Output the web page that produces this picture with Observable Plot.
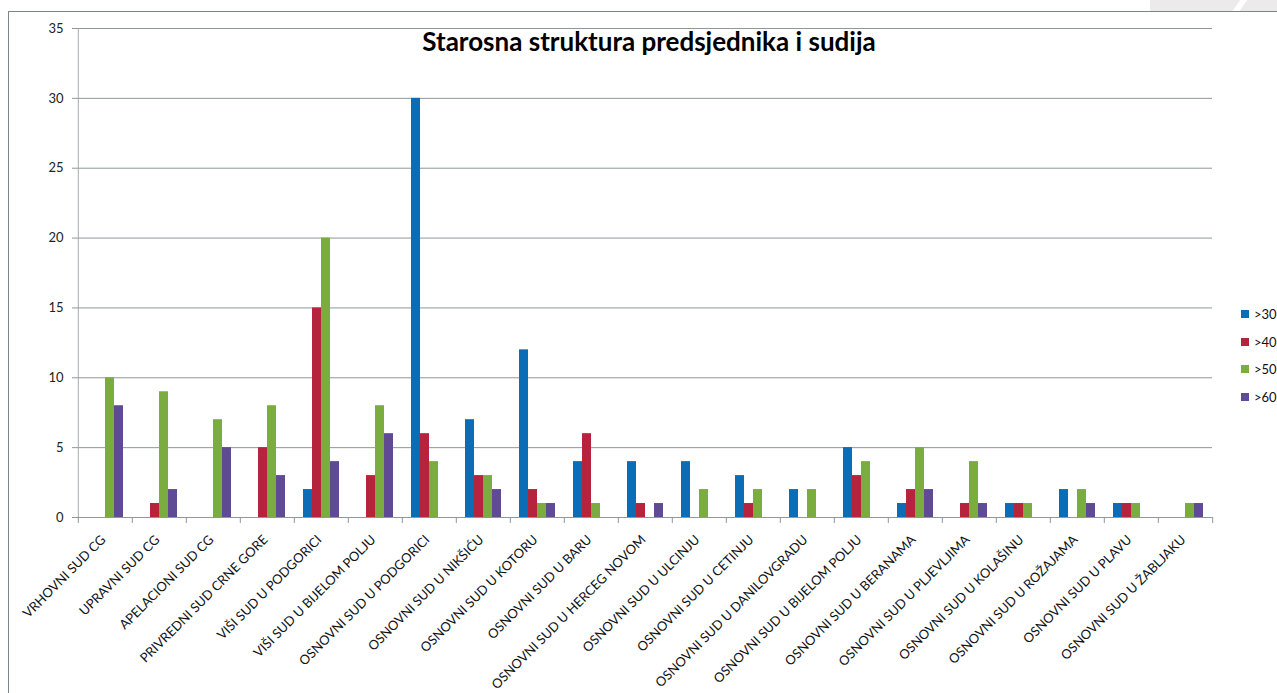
<!DOCTYPE html>
<html>
<head>
<meta charset="utf-8">
<script src="https://cdn.jsdelivr.net/npm/d3@7"></script>
<script src="https://cdn.jsdelivr.net/npm/@observablehq/plot@0.6"></script>
<style>
  body { margin: 0; background: #fff; font-family: Lato, "Open Sans", sans-serif; }
  #wrap { position: relative; width: 1277px; height: 693px; overflow: hidden; background: #fff; }
  #deco { position: absolute; left: 1150px; top: 0; width: 140px; height: 11px; background: #ebebeb; }
  #deco2 { position: absolute; left: 1236px; top: -4px; width: 7px; height: 20px; background: #fff; transform: skewX(-35deg); }
  #frame { position: absolute; left: 8px; top: 11px; width: 1300px; height: 700px;
           border-left: 1.5px solid #7b868a; border-top: 1.5px solid #7b868a; }
  #chart { position: absolute; left: 0; top: 0; }
  #title { position: absolute; left: 0; top: 25px; width: 1298px; text-align: center;
           font: bold 26px Lato, sans-serif; color: #000; }
  #legend { position: absolute; left: 1241px; top: 300px; font: 13px Lato, sans-serif; color: #111; }
  #legend .item { display: flex; align-items: center; height: 27.7px; }
  #legend .sw { width: 8px; height: 8px; margin-right: 5px; }
</style>
</head>
<body>
<div id="wrap">
  <div id="deco"></div>
  <div id="deco2"></div>
  <div id="frame"></div>
  <div id="chart"></div>
  <div id="title">Starosna struktura predsjednika i sudija</div>
  <div id="legend"></div>
</div>
<script>
// ---- data ----
const courts = [
  "VRHOVNI SUD CG",
  "UPRAVNI SUD CG",
  "APELACIONI SUD CG",
  "PRIVREDNI SUD CRNE GORE",
  "VIŠI SUD U PODGORICI",
  "VIŠI SUD U BIJELOM POLJU",
  "OSNOVNI SUD U PODGORICI",
  "OSNOVNI SUD U NIKŠIĆU",
  "OSNOVNI SUD U KOTORU",
  "OSNOVNI SUD U BARU",
  "OSNOVNI SUD U HERCEG NOVOM",
  "OSNOVNI SUD U ULCINJU",
  "OSNOVNI SUD U CETINJU",
  "OSNOVNI SUD U DANILOVGRADU",
  "OSNOVNI SUD U BIJELOM POLJU",
  "OSNOVNI SUD U BERANAMA",
  "OSNOVNI SUD U PLJEVLJIMA",
  "OSNOVNI SUD U KOLAŠINU",
  "OSNOVNI SUD U ROŽAJAMA",
  "OSNOVNI SUD U PLAVU",
  "OSNOVNI SUD U ŽABLJAKU"
];
const series = [">30", ">40", ">50", ">60"];
const over30 = [0, 0, 0, 0, 2, 0, 30, 7, 12, 4, 4, 4, 3, 2, 5, 1, 0, 1, 2, 1, 0];
const over40 = [0, 1, 0, 5, 15, 3, 6, 3, 2, 6, 1, 0, 1, 0, 3, 2, 1, 1, 0, 1, 0];
const over50 = [10, 9, 7, 8, 20, 8, 4, 3, 1, 1, 0, 2, 2, 2, 4, 5, 4, 1, 2, 1, 1];
const over60 = [8, 2, 5, 3, 4, 6, 0, 2, 1, 0, 1, 0, 0, 0, 0, 2, 1, 0, 1, 0, 1];
const yTicks = [0, 5, 10, 15, 20, 25, 30, 35];
const colors = ["#0a6db5", "#b5233c", "#7bac40", "#614a94"];

// ---- table ----
const valuesBySeries = [over30, over40, over50, over60];
const data = courts.flatMap((c, i) =>
  series.map((s, j) => ({ court: c, series: s, value: valuesBySeries[j][i] })));

const W = 1277, H = 693, ml = 74, mr = 61, mt = 28, mb = 176;
const step = (W - ml - mr) / courts.length;

const chart = Plot.plot({
  width: W, height: H,
  marginLeft: ml, marginRight: mr, marginTop: mt, marginBottom: mb,
  style: { fontFamily: "Lato, sans-serif", background: "transparent", color: "#111" },
  fx: { domain: courts, padding: 0, label: null, axis: null },
  x: { domain: series, paddingInner: 0, paddingOuter: 0.78, axis: null },
  y: { domain: [0, 35], label: null },
  color: { domain: series, range: colors },
  marks: [
    Plot.gridY(yTicks, { stroke: "#8f979b", strokeOpacity: 1, strokeWidth: 1 }),
    // vertical value axis line at the left edge of the first category
    Plot.ruleX([courts[0]], { fx: d => d, x: null, dx: -step / 2, stroke: "#a3abaf" }),
    Plot.axisY(yTicks, { tickSize: 6, tickPadding: 9, fontSize: 13, stroke: "#8f979b", fill: "#222", label: null }),
    Plot.barY(data, { fx: "court", x: "series", y: "value", fill: "series" }),
    Plot.ruleY([0], { stroke: "#8f979b" }),
    // category boundary ticks
    Plot.axisFx({ anchor: "bottom", tickSize: 6, tickFormat: () => "", dx: -step / 2, stroke: "#8f979b", label: null }),
    Plot.axisFx({ anchor: "bottom", ticks: [courts[courts.length - 1]], tickSize: 6, tickFormat: () => "", dx: step / 2, stroke: "#8f979b", label: null }),
    // category labels
    Plot.axisFx({ anchor: "bottom", tickSize: 0, tickPadding: 20, tickRotate: -45, textAnchor: "end", dx: -2,
                  fontSize: 13, fill: "#111", label: null })
  ]
});
document.getElementById("chart").appendChild(chart);

// legend
const legend = document.getElementById("legend");
series.forEach((s, j) => {
  const item = document.createElement("div");
  item.className = "item";
  const sw = document.createElement("span");
  sw.className = "sw";
  sw.style.background = colors[j];
  const t = document.createElement("span");
  t.textContent = s;
  item.appendChild(sw); item.appendChild(t);
  legend.appendChild(item);
});
</script>
</body>
</html>
